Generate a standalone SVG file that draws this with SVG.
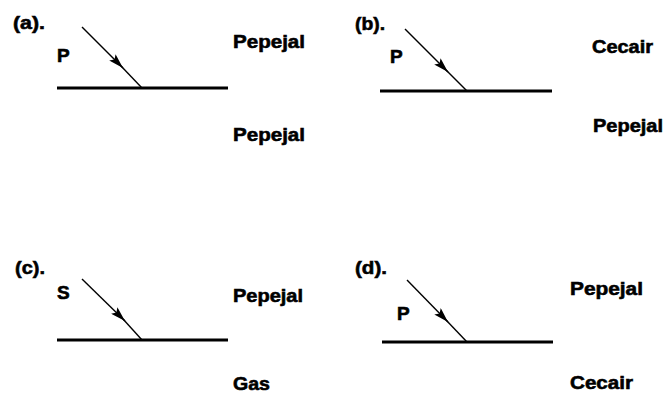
<svg xmlns="http://www.w3.org/2000/svg" width="667" height="393" viewBox="0 0 667 393">
<style>
text{font-family:"Liberation Sans",Arial,sans-serif;font-weight:bold;font-size:19px;fill:#000;stroke:#000;stroke-width:0.6}
.surf{stroke:#000;stroke-width:3;fill:none}
.ray{stroke:#000;stroke-width:1.4;fill:none}
</style>
<defs>
<marker id="ah" markerUnits="userSpaceOnUse" viewBox="0 0 15 9" refX="15" refY="4.5" markerWidth="15" markerHeight="9" orient="auto">
<path d="M0,0 L15,4.5 L0,9 L3,4.5 z" fill="#000"/>
</marker>
</defs>
<rect width="667" height="393" fill="#fff"/>
<g id="panel-a">
<text x="13" y="29" textLength="32" lengthAdjust="spacingAndGlyphs">(a).</text>
<text x="57" y="62">P</text>
<text x="233" y="48" textLength="72" lengthAdjust="spacingAndGlyphs">Pepejal</text>
<text x="233" y="141" textLength="72" lengthAdjust="spacingAndGlyphs">Pepejal</text>
<line class="surf" x1="57" y1="88" x2="228" y2="88"/>
</g>
<g id="panel-b">
<text x="355" y="30" textLength="30" lengthAdjust="spacingAndGlyphs">(b).</text>
<text x="390" y="63">P</text>
<text x="592" y="53" textLength="61" lengthAdjust="spacingAndGlyphs">Cecair</text>
<text x="593" y="132" textLength="70" lengthAdjust="spacingAndGlyphs">Pepejal</text>
<line class="surf" x1="380" y1="91" x2="552" y2="91"/>
</g>
<g id="panel-c">
<text x="15" y="274" textLength="30" lengthAdjust="spacingAndGlyphs">(c).</text>
<text x="57" y="299">S</text>
<text x="233" y="302" textLength="70" lengthAdjust="spacingAndGlyphs">Pepejal</text>
<text x="233" y="390" textLength="37" lengthAdjust="spacingAndGlyphs">Gas</text>
<line class="surf" x1="57" y1="340" x2="228" y2="340"/>
</g>
<g id="panel-d">
<text x="355" y="274" textLength="32" lengthAdjust="spacingAndGlyphs">(d).</text>
<text x="397" y="320">P</text>
<text x="570" y="295" textLength="73" lengthAdjust="spacingAndGlyphs">Pepejal</text>
<text x="570" y="389" textLength="63" lengthAdjust="spacingAndGlyphs">Cecair</text>
<line class="surf" x1="382" y1="342" x2="553" y2="342"/>
</g>
<g id="connectors">
<line class="ray" x1="82" y1="27" x2="123" y2="68" marker-end="url(#ah)"/>
<line class="ray" x1="121" y1="66" x2="142" y2="88"/>
<line class="ray" x1="405" y1="29" x2="448" y2="72" marker-end="url(#ah)"/>
<line class="ray" x1="446" y1="70" x2="467" y2="91"/>
<line class="ray" x1="82" y1="279" x2="125" y2="321" marker-end="url(#ah)"/>
<line class="ray" x1="123" y1="319" x2="142" y2="340"/>
<line class="ray" x1="407" y1="280" x2="448" y2="322" marker-end="url(#ah)"/>
<line class="ray" x1="446" y1="320" x2="467" y2="342"/>
</g>
</svg>
